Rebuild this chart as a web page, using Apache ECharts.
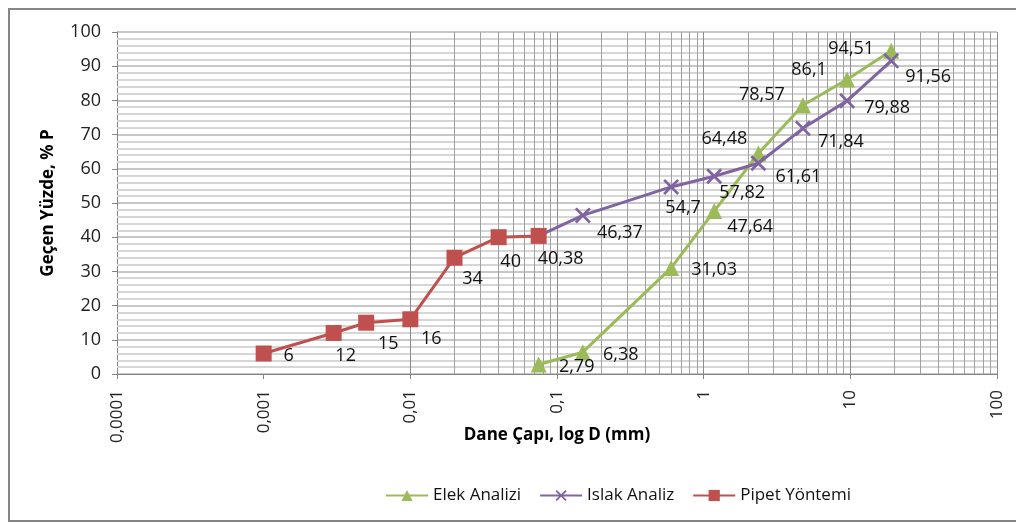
<!DOCTYPE html>
<html>
<head>
<meta charset="utf-8">
<title>Dane Boyu Dağılımı</title>
<script src="https://cdn.jsdelivr.net/npm/echarts@6/dist/echarts.min.js"></script>
<style>
  html, body { margin: 0; padding: 0; background: #ffffff; }
  #chart { width: 1016px; height: 523px; }
</style>
</head>
<body>
<div id="chart"></div>
<script>
// Sieve analysis (Elek) and wet analysis (Islak) share the same sieve openings, mm
const sieveSizes = [0.075, 0.15, 0.6, 1.18, 2.36, 4.75, 9.5, 19];
const elekPassing = [2.79, 6.38, 31.03, 47.64, 64.48, 78.57, 86.1, 94.51];
const islakPassing = [40.38, 46.37, 54.7, 57.82, 61.61, 71.84, 79.88, 91.56];

// Pipette method, mm
const pipetSizes = [0.001, 0.003, 0.005, 0.01, 0.02, 0.04, 0.075];
const pipetPassing = [6, 12, 15, 16, 34, 40, 40.38];

const xTickLabels = ['0,0001', '0,001', '0,01', '0,1', '1', '10', '100'];
const seriesNames = ['Elek Analizi', 'Islak Analiz', 'Pipet Yöntemi'];
const seriesColors = ['#9BBB59', '#8064A2', '#C0504D'];

// Label placement: offset of each label's centre from its point, px
const elekLabelOffset = [[38, 2], [38, 3], [43, 2], [36, 16], [-34, -15], [-41, -10], [-38, -10], [-40, -2]];
const islakLabelOffset = [null, [37, 17], [12, 21], [28, 17], [40, 14], [38, 14], [40, 7], [37, 16]];
const pipetLabelOffset = [[25, 2], [12, 23], [22, 21], [21, 20], [18, 21], [12, 25], [22, 23]];

const X_MIN = 0.0001;
const X_MAX = 100;

const FONT = '"Open Sans", "Noto Sans", sans-serif';
const commaNum = v => String(v).replace('.', ',');

// Grid lines drawn in order: light horizontals every 2 %, then the
// logarithmic verticals (2..9 in each decade, darker at each decade)
const plotGrid = [];
for (let v = 2; v < 100; v += 2) {
  if (v % 10 !== 0) {
    plotGrid.push([
      { coord: [X_MIN, v], lineStyle: { color: '#d6d6d6', width: 2 } },
      { coord: [X_MAX, v] }
    ]);
  }
}
for (let e = -4; e <= 2; e++) {
  const decade = Number(Math.pow(10, e).toPrecision(3));
  if (e > -4) plotGrid.push({ xAxis: decade, lineStyle: { color: '#8c8c8c', width: 1 } });
  if (e === 2) break;
  for (let m = 2; m <= 9; m++) {
    plotGrid.push({
      xAxis: Number((m * Math.pow(10, e)).toPrecision(3)),
      lineStyle: { color: '#a0a0a0', width: 1 }
    });
  }
}

function buildData(xs, ys, offsets) {
  return xs.map((x, i) => {
    const item = { value: [x, ys[i]] };
    if (offsets[i]) {
      item.label = { show: true, offset: offsets[i] };
    } else {
      item.label = { show: false };
      item.symbol = 'none';
    }
    return item;
  });
}

const labelStyle = {
  show: true,
  position: 'inside',
  align: 'center',
  verticalAlign: 'middle',
  color: '#111111',
  fontFamily: FONT,
  fontSize: 18,
  formatter: p => commaNum(p.value[1])
};

const crossSymbol = 'path://M0,1.2 L1.2,0 L5,3.8 L8.8,0 L10,1.2 L6.2,5 L10,8.8 L8.8,10 L5,6.2 L1.2,10 L0,8.8 L3.8,5 Z';

const chart = echarts.init(document.getElementById('chart'), null, { renderer: 'canvas' });

chart.setOption({
  animation: false,
  backgroundColor: '#ffffff',
  textStyle: { fontFamily: FONT },
  grid: { left: 117, right: 19, top: 32, bottom: 149, containLabel: false },
  graphic: [{
    type: 'rect',
    shape: { x: 9, y: 9, width: 1030, height: 512 },
    style: { fill: 'none', stroke: '#868686', lineWidth: 2 },
    silent: true,
    z: 0
  }],
  xAxis: {
    type: 'log',
    logBase: 10,
    min: X_MIN,
    max: X_MAX,
    name: 'Dane Çapı, log D (mm)',
    nameLocation: 'middle',
    nameGap: 53,
    nameMoveOverlap: false,
    nameTextStyle: { fontFamily: FONT, fontSize: 17, fontWeight: 'bold', color: '#000000' },
    axisLine: { show: true, onZero: false, lineStyle: { color: '#868686', width: 1 } },
    axisTick: { show: true, length: 5, lineStyle: { color: '#868686' } },
    axisLabel: {
      rotate: 90,
      margin: 16,
      fontFamily: FONT,
      fontSize: 17,
      color: '#222222',
      formatter: v => xTickLabels[Math.round(Math.log10(v)) + 4]
    },
    splitLine: { show: false }
  },
  yAxis: {
    type: 'value',
    min: 0,
    max: 100,
    interval: 10,
    name: 'Geçen Yüzde, % P',
    nameLocation: 'middle',
    nameGap: 60,
    nameMoveOverlap: false,
    nameTextStyle: { fontFamily: FONT, fontSize: 17, fontWeight: 'bold', color: '#000000' },
    axisLine: { show: true, lineStyle: { color: '#868686', width: 1 } },
    axisTick: { show: true, length: 5, lineStyle: { color: '#868686' } },
    axisLabel: { margin: 16, fontFamily: FONT, fontSize: 18, color: '#222222' },
    splitLine: { show: true, lineStyle: { color: '#b4b4b4', width: 1.5 } }
  },
  legend: {
    data: seriesNames,
    left: 380,
    top: 482,
    itemWidth: 42,
    itemHeight: 14,
    itemGap: 18,
    textStyle: { fontFamily: FONT, fontSize: 17, color: '#111111' }
  },
  series: [
    {
      // plot grid, kept under the data series
      type: 'line',
      data: [],
      silent: true,
      z: 1,
      markLine: {
        silent: true,
        z: 1,
        symbol: ['none', 'none'],
        label: { show: false },
        lineStyle: { type: 'solid' },
        emphasis: { disabled: true },
        data: plotGrid
      }
    },
    {
      name: seriesNames[0],
      type: 'line',
      z: 3,
      color: seriesColors[0],
      symbol: 'triangle',
      symbolSize: 16,
      lineStyle: { width: 3, color: seriesColors[0] },
      itemStyle: { color: seriesColors[0] },
      label: labelStyle,
      data: buildData(sieveSizes, elekPassing, elekLabelOffset)
    },
    {
      name: seriesNames[1],
      type: 'line',
      z: 4,
      color: seriesColors[1],
      symbol: crossSymbol,
      symbolSize: 16,
      lineStyle: { width: 3, color: seriesColors[1] },
      itemStyle: { color: seriesColors[1] },
      label: labelStyle,
      data: buildData(sieveSizes, islakPassing, islakLabelOffset)
    },
    {
      name: seriesNames[2],
      type: 'line',
      z: 5,
      color: seriesColors[2],
      symbol: 'rect',
      symbolSize: 16,
      lineStyle: { width: 3, color: seriesColors[2] },
      itemStyle: { color: seriesColors[2] },
      label: labelStyle,
      data: buildData(pipetSizes, pipetPassing, pipetLabelOffset)
    }
  ]
});
</script>
</body>
</html>
